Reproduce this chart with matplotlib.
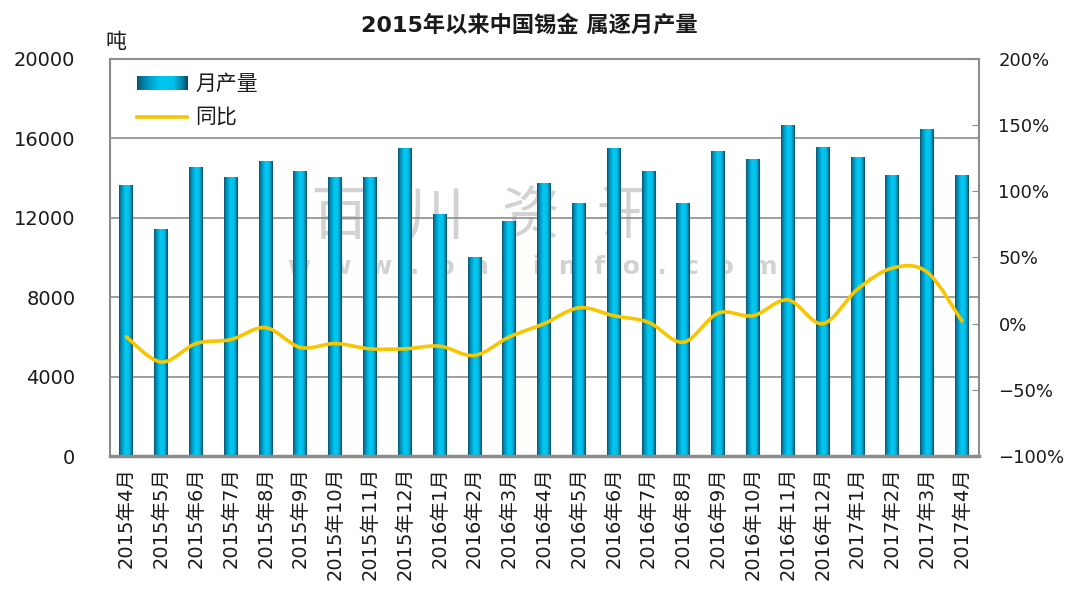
import numpy as np
import matplotlib
matplotlib.use('Agg')
import matplotlib.pyplot as plt
from matplotlib.colors import LinearSegmentedColormap
from matplotlib.path import Path
from matplotlib.patches import PathPatch

plt.rcParams['font.family'] = ['DejaVu Sans', 'Noto Sans CJK SC']

months = ['2015年4月', '2015年5月', '2015年6月', '2015年7月', '2015年8月', '2015年9月',
          '2015年10月', '2015年11月', '2015年12月', '2016年1月', '2016年2月', '2016年3月',
          '2016年4月', '2016年5月', '2016年6月', '2016年7月', '2016年8月', '2016年9月',
          '2016年10月', '2016年11月', '2016年12月', '2017年1月', '2017年2月', '2017年3月',
          '2017年4月']
output = [13650, 11400, 14550, 14050, 14850, 14350, 14050, 14050, 15500, 12150, 10000, 11800,
          13750, 12700, 15500, 14350, 12700, 15350, 14950, 16650, 15550, 15050, 14150, 16450,
          14150]
yoy = [-10, -29, -15, -12, -3, -18, -15, -19, -19, -17, -24, -10,
       0, 12, 6, 1, -14, 8, 6, 18, 0, 26, 42, 39, 2]

left_ticks = [0, 4000, 8000, 12000, 16000, 20000]
right_ticks = [-100, -50, 0, 50, 100, 150, 200]
right_labels = ['\u2212100%', '\u221250%', '0%', '50%', '100%', '150%', '200%']

title = '2015年以来中国锡金 属逐月产量'
unit = '吨'

txt = '#1a1a1a'
grey = '#8c8c8c'
bar_cmap = LinearSegmentedColormap.from_list(
    'bar', [(0, '#0a5570'), (0.18, '#0390b8'), (0.45, '#00c8f2'),
            (0.72, '#00c2ec'), (0.88, '#0388ae'), (1, '#0a4a62')])
grad = np.linspace(0, 1, 64).reshape(1, -1)

fig = plt.figure(figsize=(10.7, 6.07), dpi=100)
ax = fig.add_axes([110 / 1070, 151 / 607, 869 / 1070, 397 / 607])
x = np.arange(len(months))

# bars: geometry from ax.bar, fill drawn as a gradient image
bars = ax.bar(x, output, width=0.4, color='none', edgecolor='none', zorder=2)
for r in bars:
    ax.imshow(grad, cmap=bar_cmap, aspect='auto', zorder=2,
              extent=(r.get_x(), r.get_x() + r.get_width(), 0, r.get_height()))

ax.set_xlim(-0.47, len(months) - 0.51)
ax.set_ylim(0, 20000)
ax.set_yticks(left_ticks)
ax.set_yticklabels([str(v) for v in left_ticks])
ax.yaxis.grid(True, color=grey, linewidth=1.2, zorder=1)
ax.set_axisbelow(True)
ax.tick_params(axis='y', length=0, pad=25, labelsize=14, labelcolor=txt)
ax.set_xticks(x)
ax.set_xticklabels(months, rotation=90)
ax.tick_params(axis='x', length=0, pad=8, labelsize=14, labelcolor=txt)
for s in ax.spines.values():
    s.set_color(grey)
    s.set_linewidth(1.5)
ax.spines['bottom'].set_linewidth(2.5)

# watermark
ax.text(0.43, 0.6, '百  川  资  讯', transform=ax.transAxes, ha='center', va='center',
        fontsize=42, color='#d2d2d2', zorder=0.5)
ax.text(0.486, 0.475, 'w  w  w  .  b  a  i  i  n  f  o  .  c  o  m', transform=ax.transAxes,
        ha='center', va='center', fontsize=18, fontweight='bold', color='#d2d2d2', zorder=0.5)

# yoy line on right axis, drawn as smooth curve through the points
ax2 = ax.twinx()
ax2.set_ylim(-100, 200)
ax2.set_yticks(right_ticks)
ax2.set_yticklabels(right_labels)
ax2.tick_params(axis='y', direction='in', length=5, color=grey, pad=14, labelsize=13,
                labelcolor=txt)
for s in ax2.spines.values():
    s.set_visible(False)

pts = np.column_stack([x, yoy]).astype(float)
verts = [pts[0]]
codes = [Path.MOVETO]
n = len(pts)
for i in range(n - 1):
    p0 = pts[max(i - 1, 0)]
    p1 = pts[i]
    p2 = pts[i + 1]
    p3 = pts[min(i + 2, n - 1)]
    verts += [p1 + (p2 - p0) / 6, p2 - (p3 - p1) / 6, p2]
    codes += [Path.CURVE4] * 3
ax2.add_patch(PathPatch(Path(verts, codes), fill=False, edgecolor='#f7c600',
                        linewidth=2.6, capstyle='round', zorder=3))

# legend drawn by hand so the swatch can carry the gradient
ax.imshow(grad, cmap=bar_cmap, aspect='auto', transform=ax.transAxes, zorder=3,
          extent=(0.031, 0.089, 0.922, 0.955), clip_on=False)
ax.text(0.098, 0.938, '月产量', transform=ax.transAxes, va='center', fontsize=15, color=txt)
ax.plot([0.031, 0.089], [0.854, 0.854], transform=ax.transAxes, color='#f7c600',
        linewidth=2.6, zorder=3)
ax.text(0.098, 0.854, '同比', transform=ax.transAxes, va='center', fontsize=15, color=txt)

ax.text(0.007, 1.043, unit, transform=ax.transAxes, ha='center', va='center',
        fontsize=15, color=txt)
fig.text(0.495, 1 - 25 / 607, title, ha='center', va='center', fontsize=16,
         fontweight='bold', color=txt)

fig.savefig('out.png', dpi=100)
